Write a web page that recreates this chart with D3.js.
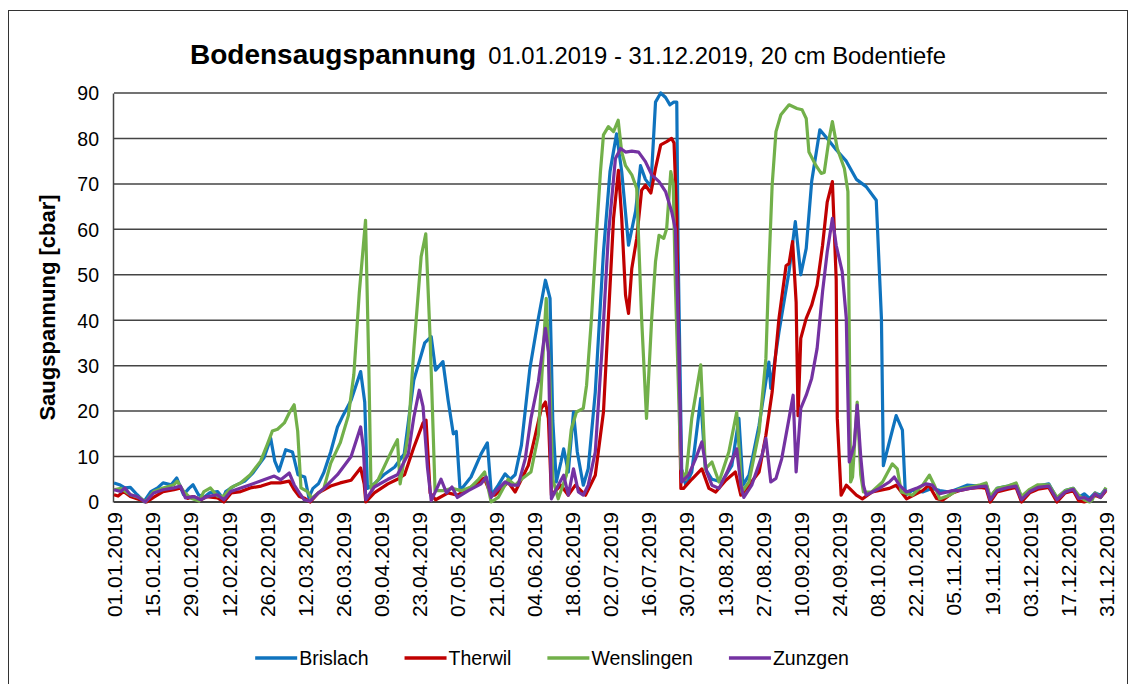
<!DOCTYPE html>
<html>
<head>
<meta charset="utf-8">
<script src="https://cdn.jsdelivr.net/npm/d3@7"></script>
<style>
  html, body { margin: 0; padding: 0; background: #fff; }
  svg text { font-family: "Liberation Sans", Arial, sans-serif; fill: #000; }
</style>
</head>
<body>
<svg id="chart" width="1130" height="684"></svg>
<script>
// ---------------- DATA ----------------
const titleMain = "Bodensaugspannung";
const titleSub = "01.01.2019 - 31.12.2019, 20 cm Bodentiefe";
const yAxisTitle = "Saugspannung [cbar]";
const yTicks = [0, 10, 20, 30, 40, 50, 60, 70, 80, 90];
// x tick labels: every 14 days from 01.01.2019 (day offsets 0..364)
const xTickDays = [0, 14, 28, 42, 56, 70, 84, 98, 112, 126, 140, 154, 168, 182, 196, 210, 224, 238, 252, 266, 280, 294, 308, 322, 336, 350, 364];
const xTickLabels = ["01.01.2019", "15.01.2019", "29.01.2019", "12.02.2019", "26.02.2019", "12.03.2019", "26.03.2019", "09.04.2019", "23.04.2019", "07.05.2019", "21.05.2019", "04.06.2019", "18.06.2019", "02.07.2019", "16.07.2019", "30.07.2019", "13.08.2019", "27.08.2019", "10.09.2019", "24.09.2019", "08.10.2019", "22.10.2019", "05.11.2019", "19.11.2019", "03.12.2019", "17.12.2019", "31.12.2019"];
const seriesNames = ["Brislach", "Therwil", "Wenslingen", "Zunzgen"];
const seriesColors = ["#0F73BE", "#C00000", "#72B04A", "#7432A2"];

// values: [day of year (0 = 01.01.2019), cbar]
const brislach = [[0,4.2],[2,3.8],[4,3.1],[6,3.2],[8.5,1.6],[11,0.1],[13.5,2.3],[16,3.1],[18,4.2],[21,3.8],[23,5.3],[25.5,1.6],[27.5,3],[29,3.8],[31,1.6],[33,1],[35,2],[38,2.3],[40,0.8],[41,2.3],[44,3.5],[48,4.6],[51,6.4],[55,9.7],[57.5,14],[59,9],[60.5,6.8],[63,11.5],[65.5,11],[67.5,6],[70,5.5],[71.5,1],[73,3],[75,4],[77,6.5],[79.5,11],[82,16.5],[84,19],[87,22.4],[90.5,28.7],[92,22],[93,3],[95.5,4],[99,6],[103,7.7],[106.5,10.6],[110,26.8],[114,35],[116.4,36.4],[118,29],[120.7,30.9],[122.6,22.4],[124.5,15],[125.6,15.5],[127,2.5],[131,5.5],[134.7,10.6],[137,13],[138.5,1.5],[141,3.7],[143.5,6.2],[145.4,5],[147.2,6],[149.5,12.5],[152.6,29.4],[155.7,40.4],[158.3,48.8],[160,44.8],[161,18],[162.3,4.4],[164,8.8],[165,11.7],[166.7,6.6],[168.6,19.8],[170,11],[172.2,3.7],[174,7.3],[176.6,24.2],[179.6,55],[182,72.7],[184.4,81],[186.3,72.7],[188.8,56.5],[191.4,64],[193.2,74],[195,71],[197,69.4],[198.7,88],[200.6,90],[202.4,89],[204,87.4],[205.4,88],[206.5,88],[207,55],[208.3,7.3],[209.8,3.7],[212,6.6],[215.3,22.8],[217,7.3],[219.4,5],[223,4.4],[226.7,8],[229.3,18.4],[230.8,3.7],[233,5.9],[236.7,16.9],[240.3,30.8],[241,25],[244,37.4],[247.7,50.7],[250,61.7],[252,50],[254,55.8],[256,70.5],[259,81.9],[261.7,80],[265,77.5],[268.7,75],[272.4,71],[276,69.4],[279.7,66.4],[281.6,40.4],[282.3,8],[284.5,13.2],[287,19],[289.3,15.8],[290.4,1.5],[293,2.6],[296.7,2.2],[300.3,3],[303,2.5],[306.6,2.2],[310,3],[313,3.7],[317.6,3.5],[320,4],[321.5,1],[324,3],[328,3.5],[331,4],[333,1],[336,2.5],[339,3.5],[343,4],[346,0.8],[349,2.5],[352,3],[354,1],[356,1.8],[358,0.8],[360,2],[362,1.5],[364,3]];

const therwil = [[0,1.6],[1.5,1.3],[3.5,2.3],[6,1.2],[9.5,0.5],[12,0],[14.5,1],[18,2.3],[22,2.7],[24.5,3.1],[27,0.8],[29,1.2],[32,0.5],[34,1.2],[38,0.9],[40.3,0],[43,2],[46.5,2.3],[50,3.1],[54,3.5],[57.5,4.2],[61,4.2],[64.3,4.6],[66,2.8],[68,1.2],[70,0.8],[72,0],[75,2],[79.5,3.5],[83,4.2],[87,4.8],[90.5,7.5],[91.8,4],[92.4,0],[95.5,2],[100.5,4],[104,5],[106.6,6],[110,12],[113.4,17.4],[114.5,18],[116,2],[118,0.5],[122.6,2],[126,1.5],[129,2.5],[133,4],[135.8,5.3],[138.4,1.5],[139.8,1.5],[144.6,4.4],[147.2,2.2],[149.5,5],[152,8],[154.6,14.7],[156.8,20.6],[158.3,22],[159.4,18.4],[160.5,1.5],[164,3.7],[166.7,1.5],[169.3,3.7],[173,1.5],[176.6,5.9],[179.6,19.8],[181.4,40.4],[183.3,62.4],[185.1,73],[186.3,62.4],[187.7,45.5],[188.8,41.5],[190,51.4],[191.8,58],[193.6,68.6],[195,69.7],[197,68],[198.7,73.4],[200.6,78.6],[202.8,79.3],[204.6,80],[205.5,79],[206.5,62.4],[208,3],[209,3],[212,5],[215.7,7.3],[218.3,3],[220.8,2.2],[224.5,4.8],[228,6.6],[230,1.5],[233,3.7],[236.7,6.6],[239.2,14.7],[241.5,24.2],[244,40.4],[246.6,52],[247.7,52.5],[249,57.3],[250.3,44],[251,19],[252,36],[254,40.4],[256,43.3],[258,47.7],[260,56.5],[261.7,66],[263.6,70.5],[265,49],[265.4,18.4],[266.8,1.5],[268.7,3.7],[272.4,1.5],[274.6,0.7],[278.2,2.2],[284.5,3],[287,3.7],[290.8,0.7],[296.7,2.5],[299,3.7],[301.8,0.8],[304,0.4],[307.7,2],[310,2.5],[314,3],[318,3.2],[320,3],[321.5,0],[324,2.2],[328,2.8],[331,3.2],[333,0],[336,2],[339,2.8],[343,3.2],[346,0],[349,2],[352,2.5],[354,0.3],[356,0],[358,0.5],[360,1.5],[362,1],[364,2.5]];

const wenslingen = [[0,2.7],[2.5,3],[6,1.6],[9.7,0.9],[11.5,0],[14.6,2.3],[18,3.1],[22,3.8],[23.2,4.6],[25.6,2.3],[28,0.9],[31.2,0.2],[33,2.3],[35.4,3.1],[37.9,1.3],[40.3,1.3],[42.8,3.1],[46.4,4.2],[50,6],[53.8,9],[56.2,12.6],[58.1,15.6],[60,16],[62.5,17.4],[64.3,19.6],[66.1,21.4],[67.4,15.6],[68.6,3.1],[71,2.3],[72.5,0.8],[75,2],[77,3],[79.5,8.5],[83,13],[86,19],[88,28],[90,46],[92.3,62],[93.5,30],[94.3,3],[97,5],[100.5,9.5],[102.5,12],[104,13.7],[105,4],[108,15],[110,33.4],[112.7,54],[114.4,59],[116,36],[117.8,2.5],[121,2.5],[124,3],[127.4,2.5],[131,3.3],[133.5,4.8],[136,6.6],[138.4,0],[141,1],[144.6,5],[147.2,3.7],[149.5,5],[153,6.6],[155.7,14.7],[156.8,25.7],[158.6,44.8],[160,25.7],[161,5],[163,0.7],[166,5.9],[167.8,16],[169.7,19.8],[172.2,20.6],[173.4,25.7],[175.2,40.4],[177,58.7],[178.5,72.7],[179.6,80.8],[181.4,82.6],[183.3,81.5],[185,84],[186.3,77],[187.7,74],[190,72],[191.8,69],[193.6,40.4],[195.4,18.4],[197.3,40.4],[198.7,52.9],[200,58.7],[201.7,58],[202.8,60.2],[204.3,72.7],[205.2,70],[206,47.7],[208,7.3],[209.8,5],[212,18.4],[215.3,30.2],[217,7.3],[219.4,8.8],[222,4.4],[225.6,11],[228.5,19.8],[230.4,2.2],[233,4.4],[236.7,15.4],[239.2,31.6],[240.3,51.4],[241.5,69.7],[242.9,81.5],[244.7,85.2],[247.7,87.4],[250.6,86.6],[252.5,86.3],[254,84.4],[255,77],[257.6,74],[259.5,72.3],[260.6,72.5],[262.4,80],[263.6,83.7],[265.4,77.8],[268,73.4],[269.3,68.3],[270.3,4.4],[271,5.5],[272.7,22],[274,6],[275,2.2],[278,2.2],[282,4.4],[285.6,8.4],[287.4,7.3],[288.9,2.2],[293,1.5],[296.7,3.7],[299.2,5.9],[301,3.7],[303,0.7],[306.6,1.5],[310,2.8],[314,3.3],[318,3.8],[320,4.2],[321.5,1.2],[324,3],[328,3.5],[331,4.2],[333,1.2],[336,2.8],[339,3.8],[343,3.8],[346,1],[349,2.5],[352,3],[354,1.5],[356,0.5],[358,0],[359,0.5],[360,2],[362,1],[364,3.2]];

const zunzgen = [[0,2.7],[2.5,2.3],[4,3.1],[6,1.6],[8.5,1.2],[11.5,0],[14.6,2],[18,2.7],[22,3.1],[24.4,3.5],[26.2,0.9],[29.3,1.2],[31.8,0.5],[34.2,1.2],[37.9,1.6],[40.3,0.5],[42.8,2.3],[50,3.8],[55,4.9],[58.8,5.7],[61.2,4.9],[64.3,6.4],[66.1,3.8],[68,2],[69.8,0.5],[72,0.2],[75,2],[77,3],[82,6],[87,10],[90.5,16.5],[91.5,12],[92.4,0.5],[95.5,3.3],[100.5,5],[104,6],[108,10.6],[110,18.6],[112,24.6],[113.4,21],[115,7.7],[116.4,0.3],[120,5],[122,2],[124,3.3],[126,1],[130,2.5],[134.7,4],[136.6,5.5],[138.4,1],[139.8,2.2],[143.5,4.4],[145.8,3.7],[148.3,3.7],[150.9,9.5],[153,18.4],[155.7,26.4],[158.3,38.2],[159.4,33],[160.5,0.7],[163,3.7],[165,5.9],[166.7,1.5],[168.6,7.3],[170.4,2.2],[172.2,1.5],[174,3.7],[176.6,11],[179,33],[181.4,58.7],[184,75.6],[185.9,77.8],[187.7,77],[190,77.2],[192.5,77],[195,74.9],[197.3,72],[200,70.5],[202.4,68.3],[204.6,64],[206,60],[207,40],[208.3,4.4],[210.8,5.9],[213.4,9.5],[215.7,13.2],[217.5,6.6],[219.4,3.7],[222,3],[225,6.6],[228.5,11.7],[230,3.7],[231.1,1],[234,3.7],[237.8,10.3],[239.2,14],[241,4.4],[242.9,5.2],[245,9.5],[247.7,18.4],[249.2,23.5],[250.3,6.6],[252,20.6],[254,23.5],[256,27.2],[258,33.8],[260,46.3],[261.7,55],[263.6,62.4],[265,56.5],[267.2,50.7],[268.7,40.4],[269.8,8.8],[271.6,12.5],[272.7,21.3],[274,10],[275,3.7],[276,1.5],[278.2,2.2],[280.8,3],[284.5,4.4],[286.3,5.5],[288.2,3.7],[290.8,2.2],[294.4,3],[298,4],[300.3,3.7],[303,1.8],[307.7,2.5],[310,2.5],[314,3],[318,3.4],[320,3.5],[321.5,0.5],[324,2.5],[328,3.2],[331,3.5],[333,0.5],[336,2.3],[339,3.2],[343,3.5],[346,0.5],[349,2.2],[352,2.8],[354,0.8],[356,1],[358,0.3],[360,1.8],[362,1],[364,2.8]];

const seriesData = [brislach, therwil, wenslingen, zunzgen];

// ---------------- LAYOUT ----------------
const svg = d3.select("#chart");
const plot = { left: 114, right: 1106, top: 93, bottom: 502 };

const x = d3.scaleLinear().domain([0, 364]).range([plot.left, plot.right]);
const y = d3.scaleLinear().domain([0, 90]).range([plot.bottom, plot.top]);

// outer frame
svg.append("rect")
  .attr("x", 8.5).attr("y", 10.5).attr("width", 1119).attr("height", 690)
  .attr("fill", "none").attr("stroke", "#333").attr("stroke-width", 1);

// title
const title = svg.append("text").attr("x", 190).attr("y", 64);
title.append("tspan").attr("font-weight", "bold").attr("font-size", 28).text(titleMain);
title.append("tspan").attr("font-size", 23.8).attr("dx", 12).text(titleSub);

// gridlines
svg.append("g")
  .selectAll("line")
  .data(yTicks)
  .join("line")
  .attr("x1", plot.left).attr("x2", plot.right + 1)
  .attr("y1", d => y(d)).attr("y2", d => y(d))
  .attr("stroke", d => d === 0 ? "#000" : "#444")
  .attr("stroke-width", 1.5);

// y axis
const yAxis = d3.axisLeft(y).tickValues(yTicks).tickSize(0).tickPadding(0);
const gy = svg.append("g").attr("transform", `translate(${plot.left - 1},0)`).call(yAxis);
gy.select(".domain").attr("stroke", "#444").attr("stroke-width", 1.5);
gy.selectAll("text")
  .attr("x", -14).attr("dy", "0.35em")
  .attr("font-size", 19.5).attr("font-family", "Liberation Sans, Arial, sans-serif");

// y axis title
svg.append("text")
  .attr("transform", `translate(55,${(plot.top + plot.bottom) / 2 + 10}) rotate(-90)`)
  .attr("text-anchor", "middle")
  .attr("font-weight", "bold").attr("font-size", 22)
  .text(yAxisTitle);

// x axis labels
const xAxis = d3.axisBottom(x).tickValues(xTickDays).tickFormat((d, i) => xTickLabels[i]).tickSize(0);
const gx = svg.append("g").attr("transform", `translate(0,${plot.bottom})`).call(xAxis);
gx.select(".domain").remove();
gx.selectAll("text")
  .attr("font-size", 21).attr("font-family", "Liberation Sans, Arial, sans-serif")
  .attr("text-anchor", "end")
  .attr("transform", "rotate(-90)")
  .attr("x", -10).attr("y", 0).attr("dy", "0.36em");

// lines
const line = d3.line().x(d => x(d[0])).y(d => y(d[1]));
svg.append("g")
  .selectAll("path")
  .data(seriesData)
  .join("path")
  .attr("d", line)
  .attr("fill", "none")
  .attr("stroke", (d, i) => seriesColors[i])
  .attr("stroke-width", 3.2)
  .attr("stroke-linejoin", "round");

// legend
const legend = svg.append("g").attr("transform", "translate(0,658)");
const items = legend.selectAll("g").data(seriesNames).join("g");
items.append("line").attr("x1", 0).attr("x2", 42).attr("y1", 0).attr("y2", 0)
  .attr("stroke", (d, i) => seriesColors[i]).attr("stroke-width", 3.5);
items.append("text").attr("x", 44).attr("dy", "0.35em").attr("font-size", 19.5).text(d => d);
let cx = 0; const widths = [];
items.each(function () { widths.push(this.getBBox().width); });
const gap = 36;
const total = d3.sum(widths) + gap * (widths.length - 1);
cx = 552 - total / 2;
items.attr("transform", (d, i) => {
  const t = `translate(${cx},0)`; cx += widths[i] + gap; return t;
});
</script>
</body>
</html>
